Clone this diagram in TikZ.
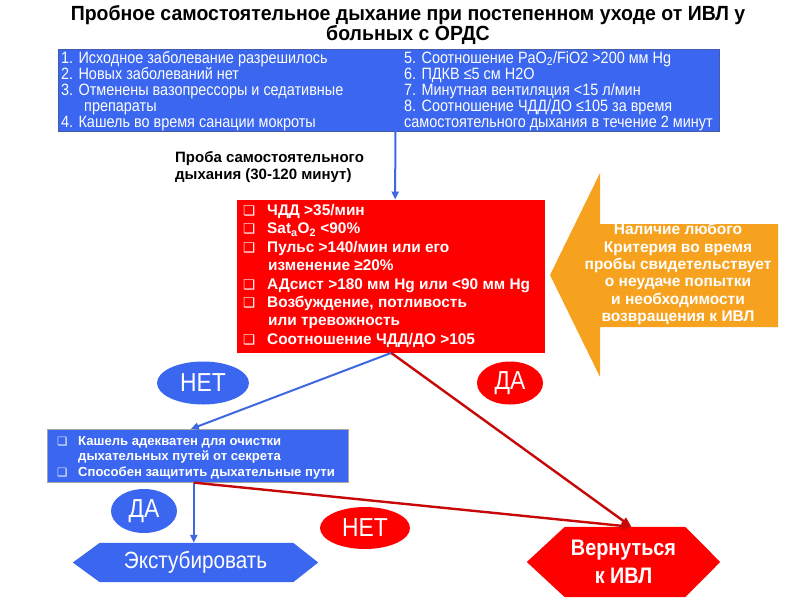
\documentclass[tikz,border=0pt]{standalone}
\usepackage{fontspec}
\setmainfont{Liberation Sans}
\newfontfamily\narrowfont[FakeStretch=0.88]{Liberation Sans}
\newfontfamily\titlefont[FakeStretch=0.95]{Liberation Sans}
\newfontfamily\symfont{DejaVu Sans}
\usetikzlibrary{arrows.meta,calc,shapes.geometric}
\definecolor{bblue}{RGB}{58,102,240}
\definecolor{bborder}{RGB}{70,90,170}
\definecolor{lblue}{RGB}{62,104,225}
\definecolor{rred}{RGB}{255,0,0}
\definecolor{dred}{RGB}{198,8,8}
\definecolor{oorange}{RGB}{247,162,30}
\newcommand\bul[1]{\makebox[#1][l]{\symfont\fontsize{13.5}{13.5}\selectfont ❑}}
\newcommand\bulsm[1]{\makebox[#1][l]{\symfont\fontsize{11.5}{11.5}\selectfont ❑}}
\pgfdeclarelayer{bg}
\pgfsetlayers{bg,main}
\begin{document}
\begin{tikzpicture}[x=1pt,y=-1pt,
  tline/.style={anchor=base west, inner sep=0, text=white, font=\narrowfont\fontsize{16.4}{16}\selectfont},
  rline/.style={anchor=base west, inner sep=0, text=white, font=\bfseries\fontsize{15.4}{17}\selectfont},
  qline/.style={anchor=base west, inner sep=0, text=white, font=\bfseries\fontsize{13.1}{15}\selectfont},
  ttl/.style={anchor=base, inner sep=0, text=black, font=\titlefont\bfseries\fontsize{20.5}{20}\selectfont},
  oval/.style={ellipse, inner sep=0, text=white, font=\narrowfont\fontsize{26}{26}\selectfont},
  barrow/.style={draw=lblue, line width=2pt, -{Triangle[length=8pt,width=7pt]}},
  rarrow/.style={draw=dred, line width=2.4pt, -{Triangle[length=10pt,width=8pt]}}
]
\useasboundingbox (0,0) rectangle (800,600);

% title
\node[ttl] (t1) at (408,20) {Пробное самостоятельное дыхание при постепенном уходе от ИВЛ у};
\node[ttl] (t2) at (408,40.5) {больных с ОРДС};

% criteria box
\node[draw=bborder, line width=0.6pt, fill=bblue, minimum width=661, minimum height=82, inner sep=0, anchor=north west] (crit) at (58,48.5) {};
\node[tline] (a1) at (61,63) {1. Исходное заболевание разрешилось};
\node[tline] (a2) at (61,79) {2. Новых заболеваний нет};
\node[tline] (a3) at (61,95) {3. Отменены  вазопрессоры и седативные};
\node[tline] (a4) at (84,111) {препараты};
\node[tline] (a5) at (61,127) {4. Кашель во время санации мокроты};
\node[tline] (b1) at (404,63) {5. Соотношение PaO\textsubscript{2}/FiO2 >200 мм Hg};
\node[tline] (b2) at (404,79) {6. ПДКВ ≤5 см H2O};
\node[tline] (b3) at (404,95) {7. Минутная вентиляция <15 л/мин};
\node[tline] (b4) at (404,111) {8. Соотношение ЧДД/ДО ≤105 за время};
\node[tline] (b5) at (404,127) {самостоятельного  дыхания в течение 2 минут};

% trial label
\node[anchor=base west, inner sep=0, font=\bfseries\fontsize{15}{17}\selectfont] (p1) at (175,162.5) {Проба самостоятельного};
\node[anchor=base west, inner sep=0, font=\bfseries\fontsize{15}{17}\selectfont] (p2) at (175,179.5) {дыхания (30-120 минут)};

% red failure criteria box
\node[fill=rred, minimum width=308, minimum height=153, inner sep=0, anchor=north west] (trial) at (237,199.5) {};
\node[rline] (r1) at (243,215.5) {\bul{24pt}ЧДД >35/мин};
\node[rline] (r2) at (243,233.9) {\bul{24pt}Sat\textsubscript{a}O\textsubscript{2} <90\%};
\node[rline] (r3) at (243,252.3) {\bul{24pt}Пульс >140/мин или его};
\node[rline] (r4) at (268,270.7) {изменение ≥20\%};
\node[rline] (r5) at (243,289.1) {\bul{24pt}АДсист >180 мм Hg или <90 мм Hg};
\node[rline] (r6) at (243,307.5) {\bul{24pt}Возбуждение, потливость};
\node[rline] (r7) at (268,325.9) {или тревожность};
\node[rline] (r8) at (243,344.3) {\bul{24pt}Соотношение ЧДД/ДО  >105};

% orange note arrow
\fill[oorange] (550,275) -- (600,173) -- (600,224) -- (778,224) -- (778,327) -- (600,327) -- (600,377) -- cycle;
\node[align=center, inner sep=0, text=white, font=\bfseries\fontsize{15.5}{17.3}\selectfont] (note) at (678,274)
  {Наличие любого\\Критерия  во время\\пробы свидетельствует\\о неудаче попытки\\ и необходимости\\возвращения к ИВЛ};

% ovals
\node[oval, fill=bblue, minimum width=92, minimum height=43] (no1) at (203,383) {НЕТ};
\node[oval, fill=rred, minimum width=66, minimum height=43] (yes1) at (510,383) {ДА};
\node[oval, fill=bblue, minimum width=66, minimum height=44] (yes2) at (144,511) {ДА};
\node[oval, fill=rred, minimum width=90, minimum height=42] (no2) at (365,528) {НЕТ};

% cough box
\node[draw=gray!70, line width=0.6pt, fill=bblue, minimum width=301, minimum height=53, inner sep=0, anchor=north west] (cough) at (47,429) {};
\node[qline] (c1) at (57,445) {\bulsm{21pt}Кашель адекватен для очистки};
\node[qline] (c2) at (78,460.5) {дыхательных путей от секрета};
\node[qline] (c3) at (57,476) {\bulsm{21pt}Способен защитить дыхательные пути};

% hexagons
\node[minimum width=245, minimum height=39, inner sep=0, text=white, font=\narrowfont\fontsize{23.5}{23}\selectfont] (ext) at (195.5,562.5) {Экстубировать};
\node[minimum width=193, minimum height=70, inner sep=0, text=white, align=center, font=\narrowfont\bfseries\fontsize{22.5}{28}\selectfont] (ivl) at (623.5,562) {Вернуться\\к ИВЛ};
\begin{pgfonlayer}{bg}
\fill[bblue] (ext.west) -- ($(ext.north west)+(27,0)$) -- ($(ext.north east)+(-25,0)$) -- (ext.east)
  -- ($(ext.south east)+(-25,0)$) -- ($(ext.south west)+(27,0)$) -- cycle;
\fill[rred] (ivl.west) -- ($(ivl.north west)+(38,0)$) -- ($(ivl.north east)+(-35,0)$) -- (ivl.east)
  -- ($(ivl.south east)+(-35,0)$) -- ($(ivl.south west)+(38,0)$) -- cycle;
\end{pgfonlayer}

% connectors
\coordinate (critout) at ($(crit.south)+(6.5,0)$);
\coordinate (trialin) at ($(trial.north)+(4,0)$);
\coordinate (coughin) at ($(cough.north)+(-7,0)$);
\coordinate (coughout) at ($(cough.south)+(-4,0)$);
\coordinate (ivlin) at ($(ivl.north)+(8,0)$);
\draw[barrow] (critout) -- (trialin);
\draw[barrow] (trial.south) -- (coughin);
\draw[rarrow] (trial.south) -- (ivlin);
\draw[barrow] (coughout) -- (coughout |- ext.north);
\draw[rarrow] (coughout) -- (ivlin);
\end{tikzpicture}
\end{document}
